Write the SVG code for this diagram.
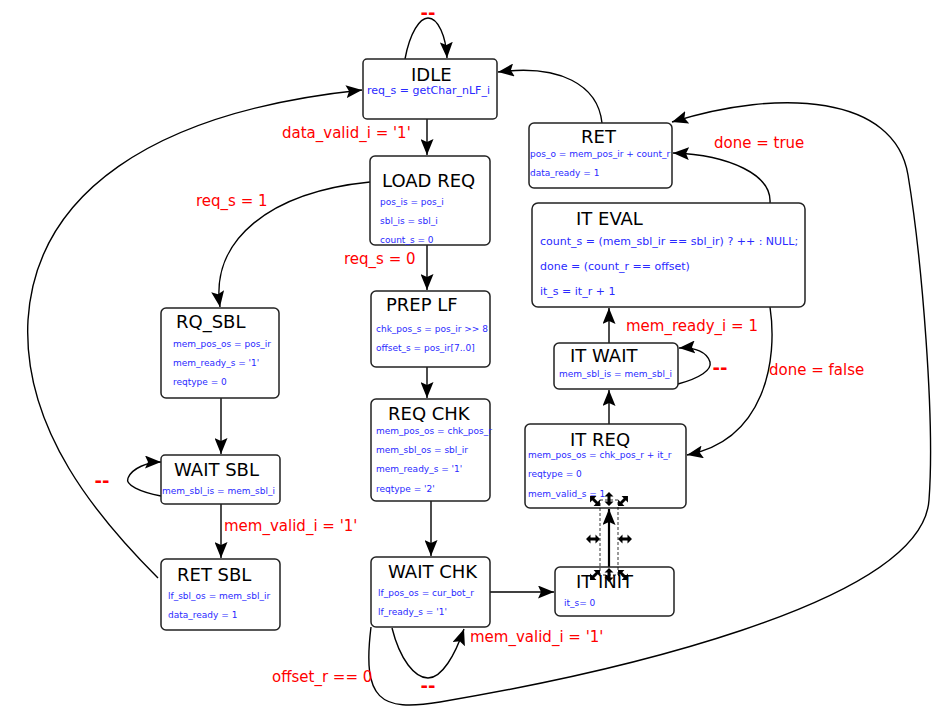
<svg xmlns="http://www.w3.org/2000/svg" xmlns:xlink="http://www.w3.org/1999/xlink" width="950" height="717" viewBox="0 0 950 717">
<defs>
<marker id="ah" markerUnits="userSpaceOnUse" markerWidth="17" markerHeight="13" refX="16" refY="6.5" orient="auto">
<path d="M0,0 L16,6.5 L0,13 L3,6.5 Z" fill="#000"/>
</marker>
<path id="dbl" d="M-7,0 L-2.5,-4.5 L-2.5,-1.5 L2.5,-1.5 L2.5,-4.5 L7,0 L2.5,4.5 L2.5,1.5 L-2.5,1.5 L-2.5,4.5 Z" fill="#000"/>
<style>
.box{fill:#fff;stroke:#222;stroke-width:1.5}
.t{font-family:"DejaVu Sans",Verdana,sans-serif;font-size:18px;fill:#000}
.b{font-family:"DejaVu Sans",Verdana,sans-serif;font-size:9px;fill:#2a2aff}
.bl{font-family:"DejaVu Sans",Verdana,sans-serif;font-size:11px;fill:#2a2aff}
.r{font-family:"DejaVu Sans",Verdana,sans-serif;font-size:15px;fill:#ff0000}
.dd{font-family:"DejaVu Sans",Verdana,sans-serif;font-size:18px;font-weight:bold;fill:#ff0000;text-anchor:middle}
.e{fill:none;stroke:#000;stroke-width:1.4;marker-end:url(#ah)}
</style>
</defs>
<rect width="950" height="717" fill="#fff"/>

<g id="connectors">
<path class="e" d="M405,59 C410,32 420,18 428,18 C438,18 446,36 447,58"/>
<path class="e" d="M602,123 C598,85 560,64 498,72"/>
<path class="e" d="M427,119 L427,155"/>
<path class="e" d="M370,182 C270,192 210,240 220,307"/>
<path class="e" d="M427,245 L427,290"/>
<path class="e" d="M427,367 L427,398"/>
<path class="e" d="M431,501 L431,556"/>
<path class="e" d="M490,592 L554,592"/>
<path class="e" d="M392,628 C400,660 415,678 428,678 C442,678 455,655 464,629"/>
<path class="e" d="M371,627 C362,700 380,712 440,702 C600,675 922,605 929,500 C935,420 922,260 908,175 C895,95 780,88 672,122"/>
<path class="e" d="M609,567 L609,509" style="stroke-width:2.2"/>
<path class="e" d="M609,424 L609,390"/>
<path class="e" d="M678,384 C700,378 712,370 710,362 C707,352 695,347 679,348"/>
<path class="e" d="M609,343 L609,308"/>
<path class="e" d="M770,307 C778,360 765,440 687,455"/>
<path class="e" d="M770,203 C772,175 730,155 673,153"/>
<path class="e" d="M221,398 L221,454"/>
<path class="e" d="M161,496 C140,492 125,485 128,478 C132,468 148,462 161,462"/>
<path class="e" d="M221,504 L221,558"/>
<path class="e" d="M158,578 C100,520 22,430 28,320 C36,195 150,112 362,90"/>
</g>

<g id="labels">
<text class="dd" x="428" y="19">--</text>
<text class="r" x="282" y="138">data_valid_i = '1'</text>
<text class="r" x="196" y="206">req_s = 1</text>
<text class="r" x="344" y="264">req_s = 0</text>
<text class="r" x="714" y="148">done = true</text>
<text class="r" x="626" y="331">mem_ready_i = 1</text>
<text class="r" x="769" y="375">done = false</text>
<text class="dd" x="720" y="374">--</text>
<text class="dd" x="102" y="487">--</text>
<text class="r" x="224" y="531">mem_valid_i = '1'</text>
<text class="r" x="470" y="642">mem_valid_i = '1'</text>
<text class="r" x="272" y="682">offset_r == 0</text>
<text class="dd" x="428" y="692">--</text>
</g>

<g id="IDLE">
<rect class="box" x="363" y="59" width="134" height="60" rx="4"/>
<text class="t" x="411" y="81">IDLE</text>
<text class="bl" x="367" y="94">req_s = getChar_nLF_i</text>
</g>

<g id="LOAD_REQ">
<rect class="box" x="370" y="156" width="120" height="89" rx="5"/>
<text class="t" x="382" y="187">LOAD REQ</text>
<text class="b" x="380" y="205">pos_is = pos_i</text>
<text class="b" x="380" y="224">sbl_is = sbl_i</text>
<text class="b" x="380" y="243">count_s = 0</text>
</g>

<g id="PREP_LF">
<rect class="box" x="371" y="291" width="119" height="76" rx="5"/>
<text class="t" x="386" y="311">PREP LF</text>
<text class="b" x="376" y="332">chk_pos_s = pos_ir &gt;&gt; 8</text>
<text class="b" x="376" y="351">offset_s = pos_ir[7..0]</text>
</g>

<g id="REQ_CHK">
<rect class="box" x="371" y="399" width="119" height="102" rx="5"/>
<text class="t" x="388" y="420">REQ CHK</text>
<text class="b" x="376" y="434">mem_pos_os = chk_pos_r</text>
<text class="b" x="376" y="453">mem_sbl_os = sbl_ir</text>
<text class="b" x="376" y="472">mem_ready_s = '1'</text>
<text class="b" x="376" y="492">reqtype = '2'</text>
</g>

<g id="WAIT_CHK">
<rect class="box" x="371" y="557" width="119" height="70" rx="5"/>
<text class="t" x="388" y="578">WAIT CHK</text>
<text class="b" x="378" y="596">lf_pos_os = cur_bot_r</text>
<text class="b" x="378" y="615">lf_ready_s = '1'</text>
</g>

<g id="IT_INIT">
<rect class="box" x="555" y="567" width="119" height="49" rx="5"/>
<text class="t" x="576" y="588">IT INIT</text>
<text class="b" x="564" y="606">it_s= 0</text>
</g>

<g id="IT_REQ">
<rect class="box" x="525" y="424" width="161" height="84" rx="5"/>
<text class="t" x="570" y="446">IT REQ</text>
<text class="b" x="528" y="458">mem_pos_os = chk_pos_r + it_r</text>
<text class="b" x="528" y="477">reqtype = 0</text>
<text class="b" x="528" y="497">mem_valid_s = 1</text>
</g>

<g id="IT_WAIT">
<rect class="box" x="554" y="343" width="124" height="46" rx="5"/>
<text class="t" x="570" y="362">IT WAIT</text>
<text class="b" x="559" y="377">mem_sbl_is = mem_sbl_i</text>
</g>

<g id="IT_EVAL">
<rect class="box" x="532" y="203" width="273" height="104" rx="6"/>
<text class="t" x="576" y="225">IT EVAL</text>
<text class="bl" x="540" y="245">count_s = (mem_sbl_ir == sbl_ir) ? ++ : NULL;</text>
<text class="bl" x="540" y="270">done = (count_r == offset)</text>
<text class="bl" x="540" y="295">it_s = it_r + 1</text>
</g>

<g id="RET">
<rect class="box" x="529" y="123" width="143" height="65" rx="5"/>
<text class="t" x="581" y="143">RET</text>
<text class="b" x="530" y="157">pos_o = mem_pos_ir + count_r</text>
<text class="b" x="530" y="176">data_ready = 1</text>
</g>

<g id="RQ_SBL">
<rect class="box" x="161" y="308" width="118" height="90" rx="5"/>
<text class="t" x="176" y="328">RQ_SBL</text>
<text class="b" x="173" y="347">mem_pos_os = pos_ir</text>
<text class="b" x="173" y="366">mem_ready_s = '1'</text>
<text class="b" x="173" y="385">reqtype = 0</text>
</g>

<g id="WAIT_SBL">
<rect class="box" x="161" y="455" width="119" height="49" rx="4"/>
<text class="t" x="174" y="476">WAIT SBL</text>
<text class="b" x="162" y="494">mem_sbl_is = mem_sbl_i</text>
</g>

<g id="RET_SBL">
<rect class="box" x="161" y="559" width="119" height="71" rx="5"/>
<text class="t" x="177" y="581">RET SBL</text>
<text class="b" x="168" y="599">lf_sbl_os = mem_sbl_ir</text>
<text class="b" x="168" y="618">data_ready = 1</text>
</g>

<g id="selection">
<rect x="600" y="500" width="18" height="75" fill="none" stroke="#000" stroke-width="0.8" stroke-dasharray="3,2"/>
<use xlink:href="#dbl" transform="translate(595,501) rotate(45)"/>
<use xlink:href="#dbl" transform="translate(609,499) rotate(90)"/>
<use xlink:href="#dbl" transform="translate(623,501) rotate(-45)"/>
<use xlink:href="#dbl" transform="translate(593,539)"/>
<use xlink:href="#dbl" transform="translate(625,539)"/>
<use xlink:href="#dbl" transform="translate(595,575) rotate(-45)"/>
<use xlink:href="#dbl" transform="translate(609,575) rotate(90)"/>
<use xlink:href="#dbl" transform="translate(623,575) rotate(45)"/>
</g>
</svg>
